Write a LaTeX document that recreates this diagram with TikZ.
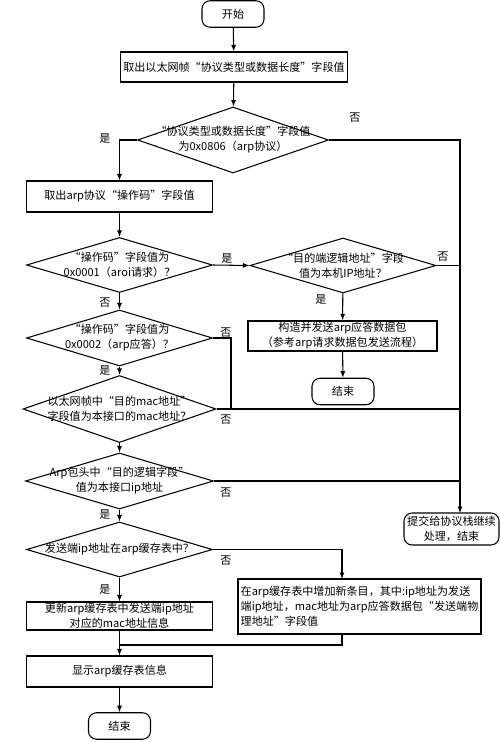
\documentclass[tikz,border=0pt]{standalone}
\usepackage{fontspec}
\setmainfont{Noto Sans CJK SC}
\usetikzlibrary{shapes.geometric}
\usetikzlibrary{arrows.meta}
\begin{document}
\begin{tikzpicture}[line width=0.6pt,
    >={Latex[length=1.3mm,width=1mm]},
    txt/.style={font=\fontsize{6.3}{8.5}\selectfont, align=center, inner sep=0pt},
    box/.style={draw, rectangle, minimum width=3.72cm, minimum height=0.6cm, txt},
    term/.style={draw, rectangle, rounded corners=0.16cm, minimum width=1.24cm, minimum height=0.53cm, txt},
    dec/.style={draw, diamond, inner sep=0pt, minimum width=3.72cm, minimum height=1.1cm}]
    \useasboundingbox (0,0) rectangle (10,-14.84);
    % main column
    \node[term] (start) at (4.66,-0.28) {开始};
    \node[box, minimum width=4.54cm] (b1) at (4.68,-1.34) {取出以太网帧“协议类型或数据长度”字段值};
    \node[dec, minimum width=3.82cm, minimum height=1.32cm] (q1) at (4.66,-2.8) {};
    \node[txt] (q1t) at (q1) {“协议类型或数据长度”字段值\\为0x0806（arp协议）};
    \node[box, minimum height=0.62cm] (b2) at (2.39,-3.93) {取出arp协议“操作码”字段值};
    \node[dec] (q2) at (2.39,-5.3) {};
    \node[txt] (q2t) at (q2) {“操作码”字段值为\\0x0001（aroi请求）？};
    \node[dec] (q3) at (6.86,-5.31) {};
    \node[txt] (q3t) at (q3) {“目的端逻辑地址”字段\\值为本机IP地址？};
    \node[box, minimum width=3.78cm] (b3) at (6.85,-6.72) {构造并发送arp应答数据包\\（参考arp请求数据包发送流程）};
    \node[term] (e1) at (6.86,-7.83) {结束};
    \node[dec, minimum height=1.12cm] (q4) at (2.39,-6.76) {};
    \node[txt] (q4t) at (q4) {“操作码”字段值为\\0x0002（arp应答）？};
    \node[dec, minimum width=3.86cm, minimum height=1.34cm] (q5) at (2.39,-8.18) {};
    \node[txt] (q5t) at (q5) {以太网帧中“目的mac地址”\\字段值为本接口的mac地址？};
    \node[dec, minimum width=3.76cm, minimum height=1.12cm] (q6) at (2.39,-9.62) {};
    \node[txt] (q6t) at (q6) {Arp包头中“目的逻辑字段”\\值为本接口ip地址};
    \node[dec] (q7) at (2.39,-10.99) {};
    \node[txt] (q7t) at (q7) {发送端ip地址在arp缓存表中？};
    \node[box, minimum height=0.56cm] (b4) at (2.39,-12.32) {更新arp缓存表中发送端ip地址\\对应的mac地址信息};
    \node[box, minimum width=4.86cm, minimum height=1.1cm, align=left] (b5) at (7.19,-12.13) {在arp缓存表中增加新条目，其中:ip地址为发送\\端ip地址，mac地址为arp应答数据包“发送端物\\理地址”字段值};
    \node[box, minimum height=0.62cm] (b6) at (2.39,-13.43) {显示arp缓存表信息};
    \node[term] (e2) at (2.39,-14.52) {结束};
    \node[term, minimum width=1.9cm, minimum height=0.64cm] (e3) at (9.03,-10.58) {提交给协议栈继续\\处理，结束};
    % junctions
    \coordinate (rtop) at (9.2,-10.26);
    \coordinate (j4) at (4.62,-8.18);
    \coordinate (b5in) at (6.84,-11.58);
    \coordinate (b5out) at (6.84,-12.68);
    \coordinate (mrg) at (2.39,-12.9);
    % connectors
    \draw[->] (start) -- (b1);
    \draw[->] (b1) -- (q1);
    \draw[->] (q1.west) -| (b2.north);
    \draw[->] (q1.east) -| (rtop);
    \draw[->] (b2) -- (q2);
    \draw[->] (q2.east) -- (q3.west);
    \draw (q3.east) -- (q3.east -| rtop);
    \draw[->] (q3) -- (b3);
    \draw[->] (b3) -- (e1);
    \draw[->] (q2) -- (q4);
    \draw (q4.east) -| (j4);
    \draw[->] (q4) -- (q5);
    \draw (q5.east) -- (q5.east -| rtop);
    \draw[->] (q5) -- (q6);
    \draw (q6.east) -- (q6.east -| rtop);
    \draw[->] (q6) -- (q7);
    \draw[->] (q7.east) -| (b5in);
    \draw[->] (q7) -- (b4);
    \draw (b5out) |- (mrg);
    \draw[->] (b4) -- (b6);
    \draw[->] (b6) -- (e2);
    % labels
    \node[txt] (l1) at (7.1,-2.36) {否};
    \node[txt] (l2) at (2.1,-2.78) {是};
    \node[txt] (l3) at (4.54,-5.18) {是};
    \node[txt] (l4) at (8.86,-5.14) {否};
    \node[txt] (l5) at (6.42,-6.0) {是};
    \node[txt] (l6) at (2.1,-6.06) {否};
    \node[txt] (l7) at (4.52,-6.66) {否};
    \node[txt] (l8) at (2.1,-7.42) {是};
    \node[txt] (l9) at (4.52,-8.4) {否};
    \node[txt] (l10) at (4.52,-9.85) {否};
    \node[txt] (l11) at (2.1,-10.3) {是};
    \node[txt] (l12) at (4.52,-11.22) {否};
    \node[txt] (l13) at (2.1,-11.8) {是};
\end{tikzpicture}
\end{document}
